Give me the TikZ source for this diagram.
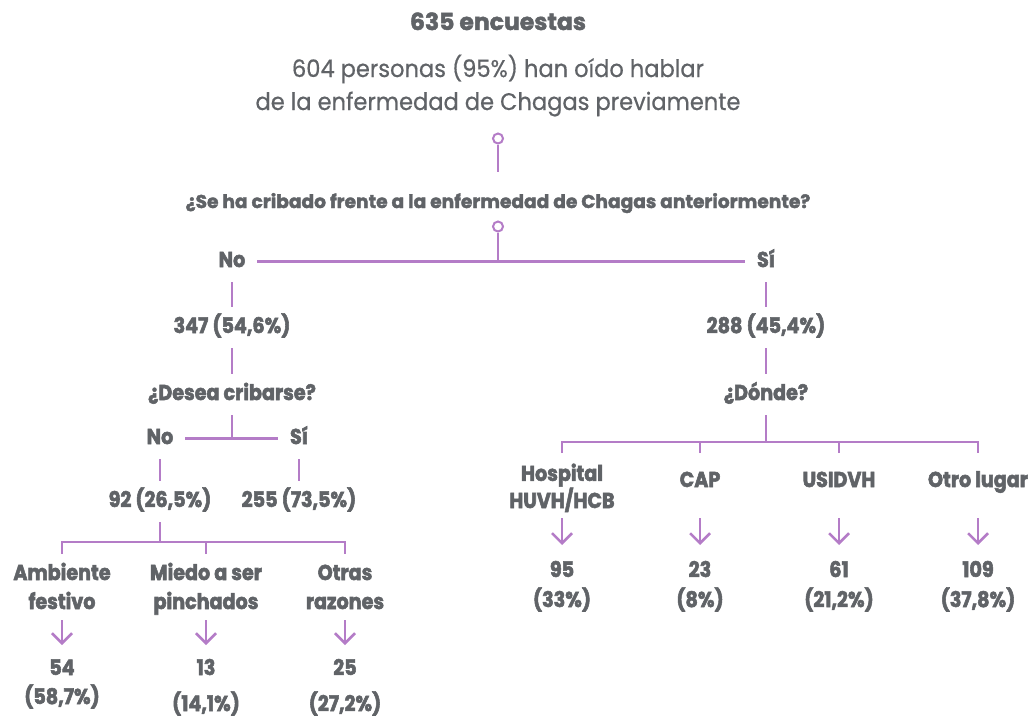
\documentclass[tikz,border=0pt]{standalone}
\usepackage{fontspec}
\setmainfont{Poppins}
\newfontfamily\fq{Poppins}[BoldFeatures={FakeBold=2}]
\newfontfamily\fl{Poppins}[FakeStretch=0.89, BoldFeatures={FakeBold=2.5}]
\newfontfamily\fr{Poppins}[FakeStretch=0.94, FakeBold=0.6]
\usetikzlibrary{arrows.meta}
\definecolor{txt}{HTML}{606367}
\definecolor{lil}{HTML}{B47CC7}
\begin{document}
\begin{tikzpicture}[x=1pt,y=-1pt,
  every node/.style={text=txt},
  lbl/.style={font=\fl\bfseries\fontsize{21.5}{29}\selectfont, anchor=base, inner xsep=12pt, inner ysep=11pt, text height=15pt, text depth=4pt},
  mlbl/.style={font=\fl\bfseries\fontsize{21.5}{#1}\selectfont, anchor=base, align=center, inner sep=0pt},
  ln/.style={draw=lil, line width=2.5pt},
  arr/.style={ln, -{Straight Barb[length=10pt,width=20pt]}},
  dot/.style={circle, draw=lil, line width=2pt, minimum size=10pt, inner sep=0pt},
]
\useasboundingbox (0,0) rectangle (1032,717);

% header
\node[font=\fq\bfseries\fontsize{23.5}{28}\selectfont, anchor=base] (head) at (498,30) {635 encuestas};
\node[font=\fr\fontsize{24}{33}\selectfont, anchor=base, align=center] (heard) at (498,110) {604 personas (95\%) han oído hablar\\de la enfermedad de Chagas previamente};
\node[dot] (c1) at (498,138.5) {};
\node[font=\fq\bfseries\fontsize{18.6}{22}\selectfont, anchor=base, inner sep=0pt, text height=13pt, text depth=4pt] (q) at (498,208) {¿Se ha cribado frente a la enfermedad de Chagas anteriormente?};
\draw[ln, shorten >=23pt] (c1.south) -- (q.north);
\node[dot] (c2) at (498,226.5) {};

% first split
\node[lbl] (no1) at (232,267) {No};
\node[lbl] (si1) at (766,267) {Sí};
\draw[ln] (no1.east) -- (si1.west);
\draw[ln] (c2.south) -- (c2.south |- no1.east);

% left branch
\node[lbl] (n347) at (232,333) {347 (54,6\%)};
\node[lbl] (des) at (232,400) {¿Desea cribarse?};
\draw[ln] (no1.south) -- (n347.north);
\draw[ln] (n347.south) -- (des.north);
\node[lbl] (no2) at (160,444) {No};
\node[lbl] (si2) at (299,444) {Sí};
\draw[ln] (no2.east) -- (si2.west);
\draw[ln] (des.south) -- (des.south |- no2.east);
\node[lbl] (n92) at (160,507) {92 (26,5\%)};
\node[lbl] (n255) at (299,507) {255 (73,5\%)};
\draw[ln] (no2.south) -- (n92.north);
\draw[ln] (si2.south) -- (n255.north);

\coordinate (b1) at (160,542);
\coordinate (ta) at (62,554);
\coordinate (tb) at (206,554);
\coordinate (tc) at (345,554);
\coordinate (aL) at (0,620);
\coordinate (aLe) at (0,645);
\draw[ln] (n92.south) -- (b1);
\draw[ln] (ta) |- (b1) -| (tc);
\draw[ln] (tb) -- (tb |- b1);

\node[mlbl=29] (amb) at (62,609) {Ambiente\\festivo};
\node[mlbl=29] (mie) at (206,609) {Miedo a ser\\pinchados};
\node[mlbl=29] (otr) at (345,609) {Otras\\razones};
\node[mlbl=29] (v54) at (62,704) {54\\(58,7\%)};
\node[mlbl=36] (v13) at (206,711) {13\\(14,1\%)};
\node[mlbl=36] (v25) at (345,711) {25\\(27,2\%)};
\draw[arr] (amb |- aL) -- (amb |- aLe);
\draw[arr] (mie |- aL) -- (mie |- aLe);
\draw[arr] (otr |- aL) -- (otr |- aLe);

% right branch
\node[lbl] (n288) at (766,333) {288 (45,4\%)};
\node[lbl] (don) at (766,400) {¿Dónde?};
\draw[ln] (si1.south) -- (n288.north);
\draw[ln] (n288.south) -- (don.north);
\coordinate (b2) at (766,442);
\coordinate (th) at (562,453);
\coordinate (tp) at (700,453);
\coordinate (tu) at (839,453);
\coordinate (to) at (978,453);
\coordinate (aR) at (0,518);
\coordinate (aRe) at (0,545);
\draw[ln] (don.south) -- (b2);
\draw[ln] (th) |- (b2) -| (to);
\draw[ln] (tp) -- (tp |- b2);
\draw[ln] (tu) -- (tu |- b2);

\node[mlbl=21] (hos) at (562,508) {Hospital\\HUVH/HCB};
\node[mlbl=21] (cap) at (700,487) {CAP};
\node[mlbl=21] (usi) at (839,487) {USIDVH};
\node[mlbl=21] (otro) at (978,487) {Otro lugar};
\node[mlbl=30] (v95) at (562,607) {95\\(33\%)};
\node[mlbl=30] (v23) at (700,607) {23\\(8\%)};
\node[mlbl=30] (v61) at (839,607) {61\\(21,2\%)};
\node[mlbl=30] (v109) at (978,607) {109\\(37,8\%)};
\draw[arr] (hos |- aR) -- (hos |- aRe);
\draw[arr] (cap |- aR) -- (cap |- aRe);
\draw[arr] (usi |- aR) -- (usi |- aRe);
\draw[arr] (otro |- aR) -- (otro |- aRe);
\end{tikzpicture}
\end{document}
